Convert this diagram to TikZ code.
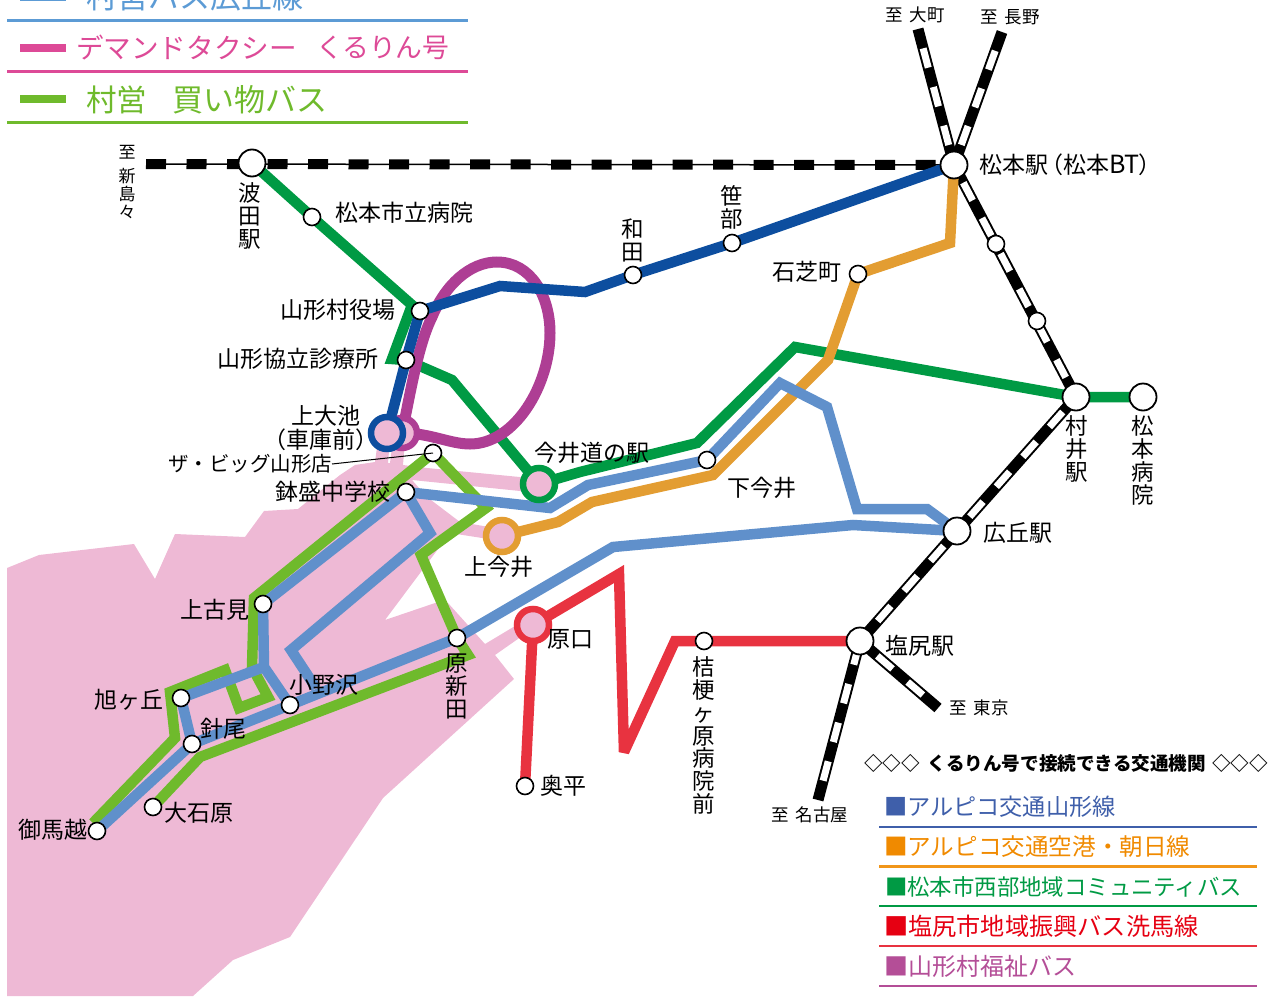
\documentclass[tikz,border=0pt]{standalone}
\usepackage{fontspec}
\setmainfont{Noto Sans CJK JP}
\definecolor{cpink}{HTML}{EEB9D5}
\definecolor{cdgreen}{HTML}{009A44}
\definecolor{clgreen}{HTML}{6FBA2C}
\definecolor{cblue}{HTML}{0D4E9F}
\definecolor{clblue}{HTML}{6090CB}
\definecolor{cpurple}{HTML}{AE3E94}
\definecolor{corange}{HTML}{E39D32}
\definecolor{cred}{HTML}{E83340}
\definecolor{ctopblue}{HTML}{5C9BD5}
\definecolor{ctoppink}{HTML}{DD4A97}
\definecolor{lega}{HTML}{3F5FAA}
\definecolor{legb}{HTML}{F08A00}
\definecolor{legc}{HTML}{009A44}
\definecolor{legd}{HTML}{E60012}
\definecolor{lege}{HTML}{B44E97}
\pgfdeclarelayer{bgpink}
\pgfdeclarelayer{bglines}
\pgfsetlayers{bgpink,bglines,main}
\newcommand{\fs}[1]{\fontsize{#1}{#1}\selectfont}
\tikzset{
  stn/.style={circle,draw=black,fill=white,line width=1.6pt,inner sep=0pt,minimum size=17pt},
  bigstn/.style={circle,draw=black,fill=white,line width=1.8pt,inner sep=0pt,minimum size=27pt},
  ringstn/.style={circle,draw=#1,fill=cpink,line width=6.5pt,inner sep=0pt,minimum size=32pt},
  route/.style={line width=10.5pt,draw=#1,line join=miter,miter limit=4},
  railbase/.style={line width=11pt,draw=black},
  railwhite/.style={line width=7pt,draw=white,dash pattern=on 20pt off 20pt,dash phase=20pt},
  lab/.style={inner sep=0pt,outer sep=0pt,text=black,font=\fs{23}},
  vlab/.style={inner sep=0pt,outer sep=0pt,text=black,align=center,font=\fontsize{22.5}{22.7}\selectfont},
  dest/.style={inner sep=0pt,outer sep=0pt,text=black,font=\fs{17.5}},
  topleg/.style={inner sep=0pt,outer sep=0pt,anchor=west},
  legrow/.style={inner sep=0pt,outer sep=0pt,anchor=west},
}
\begin{document}
\begin{tikzpicture}[x=1pt,y=-1pt]
\useasboundingbox (0,0) rectangle (1285,996);
% stations
\node[bigstn] (hata) at (252,163) {};
\node[bigstn] (matsumoto) at (954,165) {};
\node[bigstn] (murai) at (1076,397) {};
\node[bigstn] (mhosp) at (1143,397) {};
\node[bigstn] (hirooka) at (957,531) {};
\node[bigstn] (shiojiri) at (860,641) {};
\node[stn] (shiritsu) at (312,217) {};
\node[stn] (yakuba) at (420,311) {};
\node[stn] (kyoritsu) at (406,360) {};
\node[stn] (wada) at (633,275) {};
\node[stn] (sasabe) at (732,243) {};
\node[stn] (ishishiba) at (858,274) {};
\node[stn] (rail1) at (996,244) {};
\node[stn] (rail2) at (1037,321) {};
\node[stn] (big) at (433,453) {};
\node[stn] (hachi) at (406,492) {};
\node[stn] (shimoima) at (707,460) {};
\node[stn] (kamifurumi) at (263,604) {};
\node[stn] (harashin) at (457,638) {};
\node[stn] (onozawa) at (290,705) {};
\node[stn] (asahi) at (181,698) {};
\node[stn] (hario) at (192,744) {};
\node[stn] (omagoe) at (97,831) {};
\node[stn] (oishi) at (153,807) {};
\node[stn] (okudaira) at (525,786) {};
\node[stn] (kikyo) at (704,641) {};
\node[ringstn=cpurple,minimum size=30pt] (ikeb) at (402,433) {};
\node[ringstn=cblue] (ikea) at (387,433) {};
\node[ringstn=cdgreen] (imaimichi) at (539,484) {};
\node[ringstn=corange] (kamiima) at (502,536) {};
\node[ringstn=cred] (haraguchi) at (533,625) {};
% free ends
\coordinate (endoomachi) at (918,29);
\coordinate (endnagano) at (1002,32);
\coordinate (endtokyo) at (938,708);
\coordinate (endnagoya) at (818,800);
\coordinate (endniishima) at (146,164);
\begin{pgfonlayer}{bgpink}
\fill[cpink] (7,568) -- (39,555) -- (134,544) -- (155,579) -- (175,534) -- (245,537) -- (264,511) -- (298,509)
 -- (340,475) -- (355,465) -- (375,462) -- (378,440) -- (390,440) -- (388,463) -- (390,463) -- (393,440) -- (405,440) -- (403,465)
 -- (427,468) -- (530,478) -- (530,492) -- (412,480) -- (427,497) -- (460,522) -- (495,528) -- (495,540) -- (450,533)
 -- (385,620) -- (438,602) -- (448,603) -- (485,644) -- (525,620) -- (525,634) -- (495,655) -- (514,679)
 -- (383,798) -- (290,937) -- (233,960) -- (193,996) -- (7,996) -- cycle;
\end{pgfonlayer}
\begin{pgfonlayer}{bglines}
% rails
\foreach \a/\b in {endoomachi/matsumoto,endnagano/matsumoto,matsumoto/murai,murai/hirooka,hirooka/shiojiri,endtokyo/shiojiri,endnagoya/shiojiri}{
  \draw[railbase] (\a.center) -- (\b.center);
  \draw[railwhite] (\a.center) -- (\b.center);
}
\draw[line width=1.5pt] (endniishima) -- (matsumoto.center);
\draw[line width=10pt,dash pattern=on 20pt off 20.5pt] (endniishima) -- (matsumoto.center);
% light green
\draw[route=clgreen] (oishi.center) -- (200,757) -- (468,655) -- (harashin.center) -- (421,555) -- (486,508) -- (big.center)
  -- (254,598) -- (252,667) -- (268,697) -- (239,708) -- (225,670) -- (170,692) -- (175,738) -- (93,823);
% dark green
\draw[route=cdgreen] (hata.center) -- (shiritsu.center) -- (412,305) -- (392,359) -- (kyoritsu.center) -- (452,380) -- (imaimichi.center)
  -- (580,472) -- (697,443) -- (795,347) -- (murai.center) -- (mhosp.center);
% orange
\draw[route=corange] (kamiima.center) -- (558,522) -- (592,502) -- (713,475) -- (828,360) -- (ishishiba.center) -- (950,243) -- (matsumoto.center);
% purple
\draw[line width=11pt,draw=cpurple] (ikeb.center) .. controls (410,395) and (418,345) .. (432,317)
  .. controls (445,285) and (470,262) .. (497,262)
  .. controls (530,262) and (550,295) .. (550,333)
  .. controls (550,385) and (515,444) .. (470,444)
  .. controls (450,444) and (430,433) .. (ikeb.center);
% light blue
\draw[route=clblue] (hirooka.center) -- (927,509) -- (857,509) -- (827,407) -- (780,383) -- (shimoima.center) -- (588,485) -- (550,508) -- (hachi.center);
\draw[route=clblue] (hirooka.center) -- (853,525) -- (613,547) -- (harashin.center) -- (onozawa.center) -- (hario.center) -- (omagoe.center);
\draw[route=clblue] (hachi.center) -- (430,533) -- (291,650) -- (316,688);
\draw[route=clblue] (hachi.center) -- (kamifurumi.center) -- (264,667) -- (onozawa.center);
\draw[route=clblue] (264,667) -- (asahi.center) -- (hario.center);
% dark blue
\draw[route=cblue] (ikea.center) -- (kyoritsu.center) -- (yakuba.center) -- (500,286) -- (585,292) -- (wada.center) -- (sasabe.center) -- (matsumoto.center);
% red
\draw[route=cred] (okudaira.center) -- (haraguchi.center) -- (619,574) -- (624,752) -- (675,641) -- (kikyo.center) -- (shiojiri.center);
\end{pgfonlayer}
% labels
\node[lab,anchor=west] (lshiritsu) at (335,213) {松本市立病院};
\node[lab,anchor=east] (lyakuba) at (395,310) {山形村役場};
\node[lab,anchor=east] (lkyoritsu) at (378,359) {山形協立診療所};
\node[lab] (like) at (326,416) {上大池};
\node[lab] (likeb) at (326,440) {\hspace{-11pt}（車庫前）\hspace{-11pt}};
\node[lab,anchor=east,font=\fs{20.5}] (lbig) at (332,464) {ザ・ビッグ山形店};
\draw[line width=1pt] (lbig.east) -- (big.center);
\node[lab,anchor=east] (lhachi) at (390,492) {鉢盛中学校};
\node[lab,anchor=east] (lkamifurumi) at (249,610) {上古見};
\node[lab,anchor=east] (lasahi) at (163,700) {旭ヶ丘};
\node[lab,anchor=west] (lonozawa) at (289,685) {小野沢};
\node[lab,anchor=west] (lhario) at (200,729) {針尾};
\node[lab,anchor=east] (lomagoe) at (87,830) {御馬越};
\node[lab,anchor=west] (loishi) at (164,813) {大石原};
\node[lab,anchor=west] (lkamiima) at (464,567) {上今井};
\node[lab,anchor=west] (lharaguchi) at (547,639) {原口};
\node[lab,anchor=west] (lokudaira) at (540,786) {奥平};
\node[lab,anchor=east] (lishishiba) at (841,272) {石芝町};
\node[lab,anchor=west] (lshimoima) at (727,488) {下今井};
\node[lab,anchor=west] (limaimichi) at (534,453) {今井道の駅};
\node[lab,anchor=west] (lhirooka) at (983,533) {広丘駅};
\node[lab,anchor=west] (lshiojiri) at (885,646) {塩尻駅};
\node[lab,anchor=west] (lmatsumoto) at (979,165) {松本駅\hspace{-8pt}（松本{\fs{25}BT}\hspace{-1pt}）};
\node[vlab,anchor=north] (lhata) at (250,183) {波\\田\\駅};
\node[vlab,anchor=north] (lharashin) at (457,654) {原\\新\\田};
\node[vlab,anchor=north] (lkikyo) at (704,657) {桔\\梗\\ヶ\\原\\病\\院\\前};
\node[vlab,anchor=north] (lwada) at (633,219) {和\\田};
\node[vlab,anchor=north] (lsasabe) at (732,186) {笹\\部};
\node[vlab,anchor=north] (lmurai) at (1077,416) {村\\井\\駅};
\node[vlab,anchor=north] (lmhosp) at (1143,416) {松\\本\\病\\院};
\node[dest,align=center,anchor=north,font=\fontsize{17}{18}\selectfont] (dniishima) at (127,145) {至\\[6pt]新\\島\\々};
\node[dest,anchor=west] (doomachi) at (885,15) {至\hspace{7pt}大町};
\node[dest,anchor=west] (dnagano) at (980,17) {至\hspace{7pt}長野};
\node[dest,anchor=west] (dtokyo) at (949,708) {至\hspace{7pt}東京};
\node[dest,anchor=west] (dnagoya) at (771,815) {至\hspace{7pt}名古屋};
% top legend
\draw[ctopblue,line width=8pt] (20,-3) -- (66,-3);
\draw[ctopblue,line width=2.5pt] (7,20.5) -- (468,20.5);
\node[topleg,text=ctopblue,font=\fs{31}] (ttop1) at (86,-3) {村営バス広丘線};
\draw[ctoppink,line width=8pt] (20,48) -- (66,48);
\draw[ctoppink,line width=2.5pt] (7,71.5) -- (468,71.5);
\node[topleg,text=ctoppink,font=\fs{27.6}] (ttop2) at (76,48) {デマンドタクシー};
\node[topleg,text=ctoppink,font=\fs{26.8}] (ttop3) at (316,48) {くるりん号};
\draw[clgreen,line width=8pt] (20,99) -- (66,99);
\draw[clgreen,line width=2.5pt] (7,122.5) -- (468,122.5);
\node[topleg,text=clgreen,font=\fs{30.5}] (ttop4) at (86,100) {村営};
\node[topleg,text=clgreen,font=\fs{31}] (ttop5) at (172,100) {買い物バス};
% bottom legend
\node[legrow,text=black,font=\bfseries\fs{18.6}] (ltitle) at (864,763) {◇◇◇\hspace{8pt}くるりん号で接続できる交通機関\hspace{6pt}◇◇◇};
\node[legrow,text=lega,font=\fs{23.2}] (lega1) at (884,807) {■アルピコ交通山形線};
\draw[lega,line width=2.5pt] (879,827) -- (1257,827);
\node[legrow,text=legb,font=\fs{23.6}] (legb1) at (884,847) {■アルピコ交通空港・朝日線};
\draw[legb!90!white,line width=2.5pt] (879,866.5) -- (1257,866.5);
\node[legrow,text=legc,font=\fs{22.4}] (legc1) at (885,887) {■松本市西部地域コミュニティバス};
\draw[legc,line width=2.5pt] (879,906) -- (1257,906);
\node[legrow,text=legd,font=\fs{24.2}] (legd1) at (884,926) {■塩尻市地域振興バス洗馬線};
\draw[cred,line width=2.5pt] (879,946) -- (1257,946);
\node[legrow,text=lege,font=\fs{24}] (lege1) at (884,966) {■山形村福祉バス};
\draw[lege,line width=2.5pt] (879,986) -- (1257,986);
\end{tikzpicture}
\end{document}
